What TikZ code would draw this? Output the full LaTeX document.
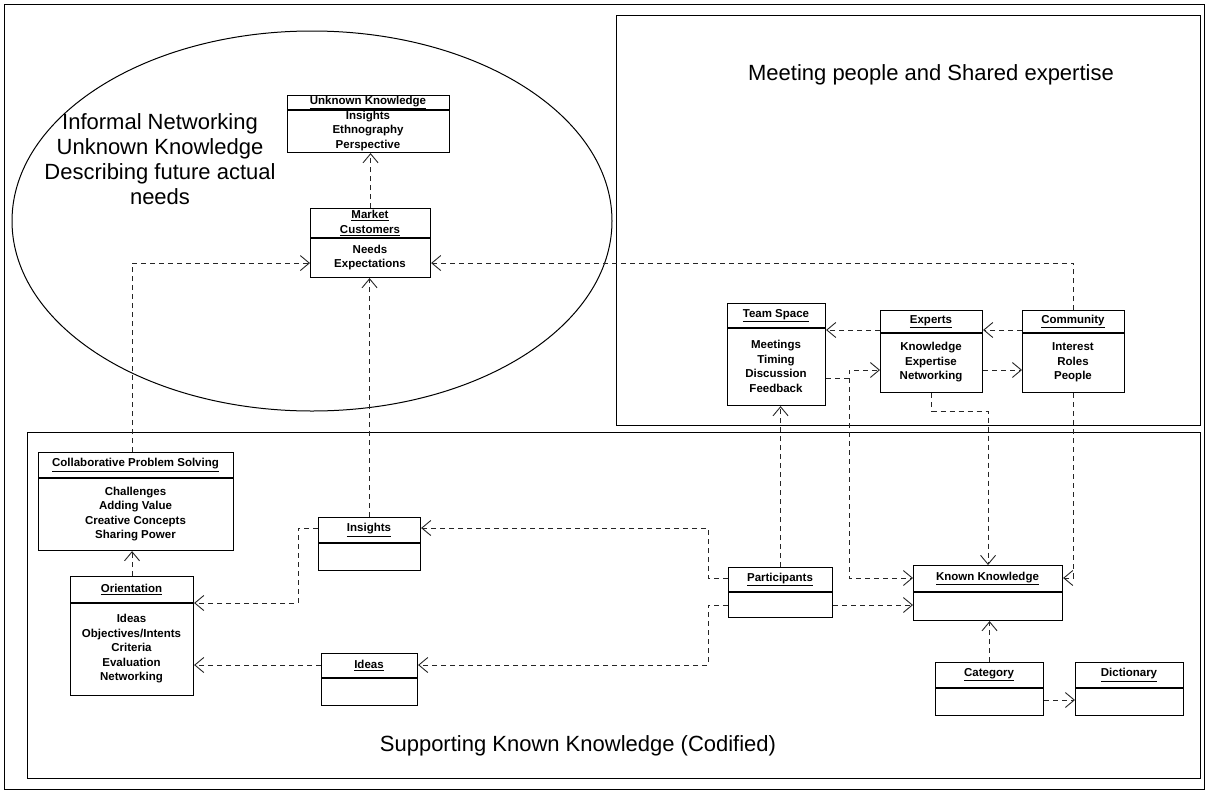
\documentclass[tikz,border=0pt]{standalone}
\usepackage{fontspec}
\setmainfont{Liberation Sans}
\usetikzlibrary{arrows.meta}

\tikzset{
  objframe/.style={draw, line width=1.1pt, inner sep=0pt, anchor=north west},
  objtext/.style={font=\fontsize{11.5}{14.5}\selectfont\bfseries, align=center, inner sep=0pt},
  dep/.style={draw=black!85, line width=0.9pt, dash pattern=on 5pt off 4pt,
    -{Straight Barb[length=9pt,width=15pt]}},
  frame/.style={draw, line width=1pt},
  title/.style={font=\fontsize{22}{25}\selectfont, align=center, inner sep=0pt}
}

% object box: name, x, y, width, height, header height, header, body
\newcommand{\objbox}[8]{%
  \node[objframe, minimum width=#4pt, minimum height=#5pt] (#1) at (#2,#3) {};
  \draw[line width=1.1pt] ([yshift=-#6pt]#1.north west) -- ([yshift=-#6pt]#1.north east);
  \node[objtext] (#1-head) at (#2+#4/2,#3+#6/2) {#7};
  \node[objtext] (#1-body) at (#2+#4/2,#3+#6/2+#5/2) {#8};
}

\begin{document}
\begin{tikzpicture}[x=1pt,y=-1pt]
\useasboundingbox (0,0) rectangle (1208,793);
\fill[white] (0,0) rectangle (1208,793);

% frames and areas
\draw[frame] (4,4) rectangle (1204,789);
\draw[frame] (616,15) rectangle (1200,425);
\draw[frame] (27,432) rectangle (1200,778);
\draw[frame] (312,221) ellipse [x radius=300, y radius=190];

\node[title] (tinformal) at (160,159) {Informal Networking\\Unknown Knowledge\\Describing future actual\\needs};
\node[title] (tmeeting) at (931,75) {Meeting people and Shared expertise};
\node[title] (tsupport) at (578,746) {Supporting Known Knowledge (Codified)};

% objects
\objbox{unk}{287}{95}{162}{57}{15}{\underline{Unknown Knowledge}}{Insights\\Ethnography\\Perspective}
\objbox{mkt}{310}{208}{120}{69}{30}{\underline{Market}\\\underline{Customers}}{Needs\\Expectations}
\objbox{team}{727}{303}{98}{102}{25}{\underline{Team Space}}{Meetings\\Timing\\Discussion\\Feedback}
\objbox{exp}{880}{310}{102}{82}{23}{\underline{Experts}}{Knowledge\\Expertise\\Networking}
\objbox{com}{1022}{310}{102}{82}{23}{\underline{Community}}{Interest\\Roles\\People}
\objbox{col}{38}{452}{195}{98}{26}{\underline{Collaborative Problem Solving}}{Challenges\\Adding Value\\Creative Concepts\\Sharing Power}
\objbox{ori}{70}{576}{123}{119}{27}{\underline{Orientation}}{Ideas\\Objectives/Intents\\Criteria\\Evaluation\\Networking}
\objbox{ins}{318}{517}{102}{53}{26}{\underline{Insights}}{}
\objbox{ide}{321}{653}{96}{52}{25}{\underline{Ideas}}{}
\objbox{par}{728}{567}{104}{50}{25}{\underline{Participants}}{}
\objbox{kk}{913}{565}{149}{55}{27}{\underline{Known Knowledge}}{}
\objbox{cat}{935}{662}{108}{53}{26}{\underline{Category}}{}
\objbox{tax}{1075}{662}{108}{53}{26}{\underline{Dictionary}}{}

% connection points
\coordinate (mktL) at ([yshift=-20pt]mkt.west);
\coordinate (mktR) at ([yshift=-20pt]mkt.east);
\coordinate (expLt) at ([yshift=-20pt]exp.north west);
\coordinate (expLb) at ([yshift=-60pt]exp.north west);
\coordinate (expRb) at ([yshift=-60pt]exp.north east);
\coordinate (comLt) at ([yshift=-20pt]com.north west);
\coordinate (teamR) at ([yshift=-75pt]team.north east);
\coordinate (tbend) at ([xshift=23pt]teamR);
\coordinate (kkL1) at ([yshift=-13pt]kk.north west);
\coordinate (kkR1) at ([yshift=-13pt]kk.north east);
\coordinate (parL1) at ([yshift=-11pt]par.north west);
\coordinate (parL2) at ([yshift=-38pt]par.north west);
\coordinate (parR2) at ([yshift=-38pt]par.north east);
\coordinate (pbend) at ([xshift=-20pt]parL1);
\coordinate (insL) at ([yshift=-11pt]ins.north west);
\coordinate (insR) at ([yshift=-11pt]ins.north east);
\coordinate (ibend) at ([xshift=-20pt]insL);
\coordinate (ideL) at ([yshift=-12pt]ide.north west);
\coordinate (ideR) at ([yshift=-12pt]ide.north east);
\coordinate (oriR1) at ([yshift=-27pt]ori.north east);
\coordinate (expB) at ([yshift=-18pt]exp.south);
\coordinate (catR) at ([yshift=-38pt]cat.north east);

% connectors
\draw[dep] (mkt.north) -- (mkt.north |- unk.south);
\draw[dep] (ori.north |- col.north) |- (mktL);
\draw[dep] (com.north) |- (mktR);
\draw[dep] (ins.north) -- (ins.north |- mkt.south);
\draw[dep] (expLt) -- (expLt -| team.east);
\draw[dep] (comLt) -- (comLt -| exp.east);
\draw[dep] (teamR) -- (tbend) |- (expLb);
\draw[dep] (tbend) |- (kkL1);
\draw[dep] (expRb) -- (expRb -| com.west);
\draw[dep] (exp.south) -- (expB) -| (kk.north);
\draw[dep] (com.south) |- (kkR1);
\draw[dep] (par.north) -- (par.north |- team.south);
\draw[dep] (parR2) -- (parR2 -| kk.west);
\draw[dep] (parL1) -- (pbend) |- (insR);
\draw[dep] (parL2) -| (pbend |- ideR) -- (ideR);
\draw[dep] (insL) -- (ibend) |- (oriR1);
\draw[dep] (ideL) -- (ideL -| ori.east);
\draw[dep] (ori.north) -- (ori.north |- col.south);
\draw[dep] (cat.north) -- (cat.north |- kk.south);
\draw[dep] (catR) -- (catR -| tax.west);
\end{tikzpicture}
\end{document}
